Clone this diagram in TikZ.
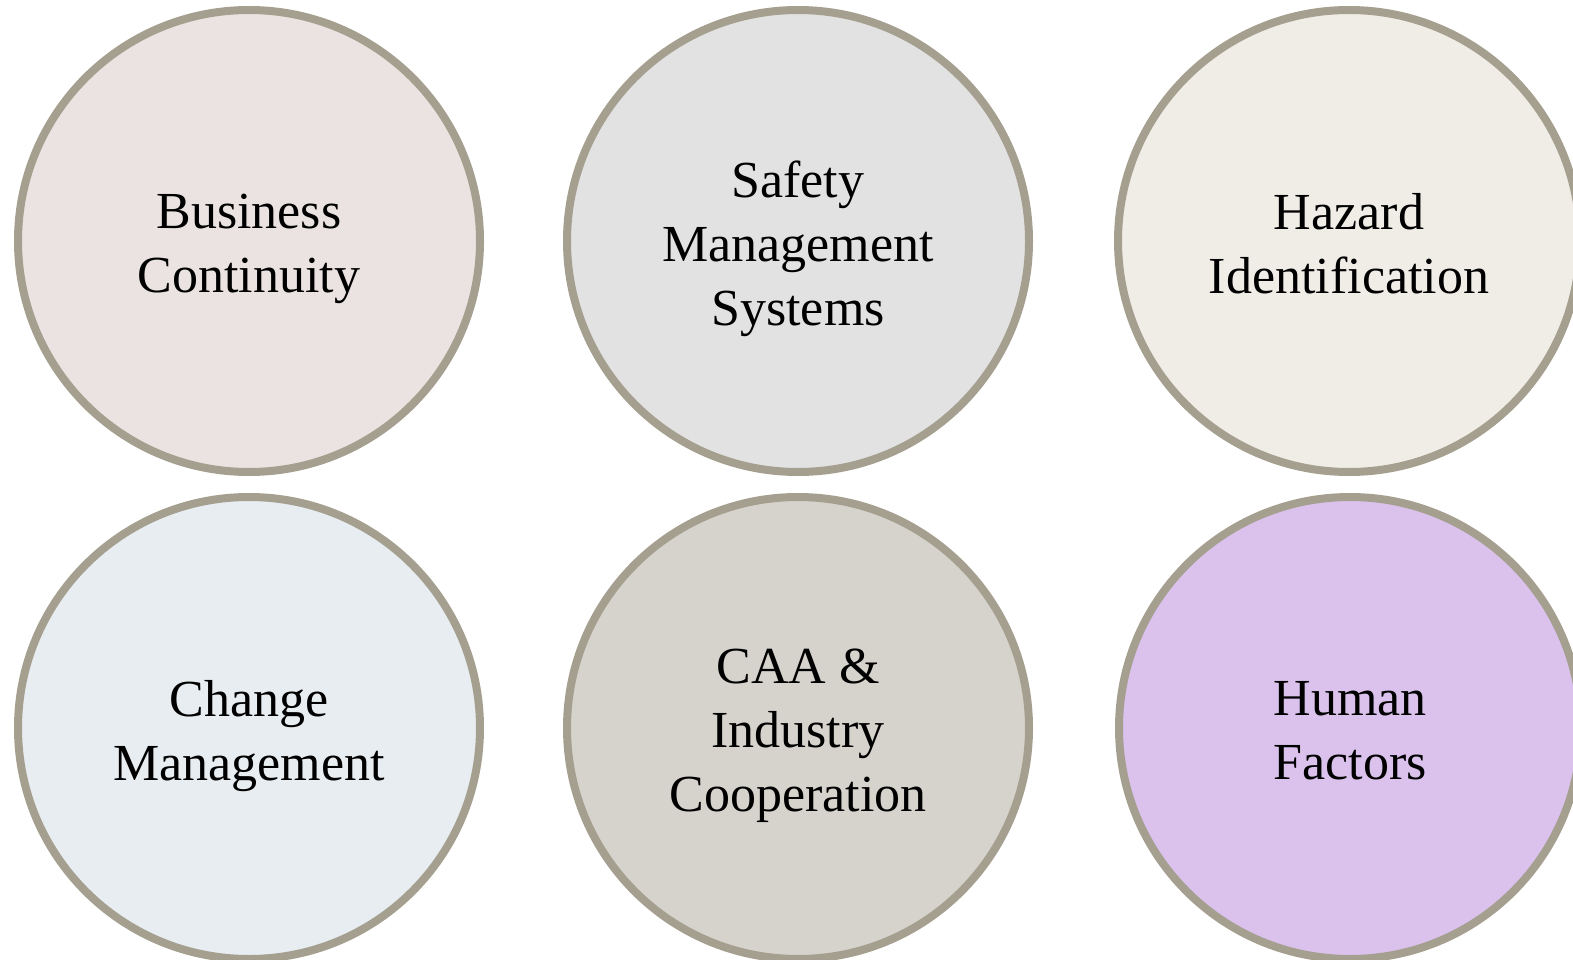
\documentclass[tikz,border=0pt]{standalone}
\usepackage{fontspec}
\setmainfont{Liberation Serif}
\definecolor{ringc}{HTML}{A59F8F}
\definecolor{fA}{HTML}{EBE3E1}
\definecolor{fB}{HTML}{E2E2E2}
\definecolor{fC}{HTML}{F0EDE7}
\definecolor{fD}{HTML}{E7EDF0}
\definecolor{fE}{HTML}{D6D3CC}
\definecolor{fF}{HTML}{DAC2EC}
\tikzset{
  topic/.style={circle, draw=ringc, line width=8pt, minimum size=462pt,
    inner sep=0pt},
  topictext/.style={align=center, text=black, inner sep=0pt,
    font=\fontsize{52}{64}\selectfont, yshift=-8pt}
}
\begin{document}
\begin{tikzpicture}[x=1pt,y=-1pt]
\useasboundingbox (0,0) rectangle (1573,960);
\clip (0,0) rectangle (1573,960);
\node[topic, fill=fA] (bc) at (249,241) {};
\node[topic, fill=fB] (sms) at (798,241) {};
\node[topic, fill=fC] (hi) at (1349,241) {};
\node[topic, fill=fD] (cm) at (249,728) {};
\node[topic, fill=fE] (caa) at (798,728) {};
\node[topic, fill=fF] (hf) at (1350,728) {};
\node[topictext] (bct) at (bc.center) {Business\\Continuity};
\node[topictext] (smst) at (sms.center) {Safety\\Management\\Systems};
\node[topictext] (hit) at (hi.center) {Hazard\\Identification\vphantom{y}};
\node[topictext] (cmt) at (cm.center) {Change\\Management};
\node[topictext] (caat) at (caa.center) {CAA \&\\Industry\\Cooperation};
\node[topictext] (hft) at (hf.center) {Human\\Factors\vphantom{y}};
\end{tikzpicture}
\end{document}
